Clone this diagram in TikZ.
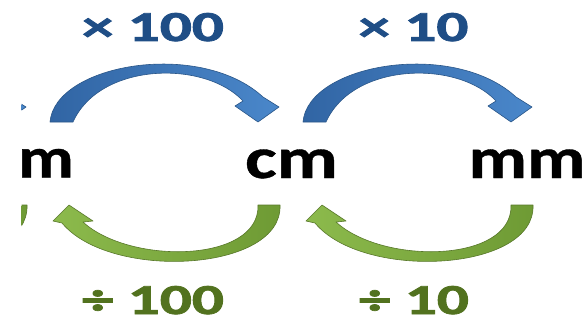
\documentclass[tikz,border=0pt]{standalone}
\usepackage{fontspec}
\setmainfont{Carlito}
\newfontfamily\heavyfont[FakeBold=1.6]{Carlito Bold}
\newfontfamily\unitfont[FakeBold=0.6]{Carlito Bold}
\definecolor{blueA}{HTML}{3165A4}
\definecolor{blueB}{HTML}{4A87CA}
\definecolor{blueE}{HTML}{2A5688}
\definecolor{greenA}{HTML}{8CBA4C}
\definecolor{greenB}{HTML}{6E9A34}
\definecolor{greenE}{HTML}{58782A}
\definecolor{labblue}{HTML}{1F4E86}
\definecolor{labgreen}{HTML}{52721F}
\tikzset{
  unit/.style={inner sep=0pt, anchor=base, font=\fontsize{58}{60}\unitfont, text=black},
  lab/.style={inner sep=0pt, anchor=base, font=\fontsize{42.7}{46}\heavyfont},
  bluearrow/.pic={
    \shadedraw[left color=blueA, right color=blueB, draw=blueE, line width=0.6pt, line join=round]
      (50,122) .. controls (55,64) and (200,39) .. (263,97)
      -- (279,107) -- (258,122) -- (235,106) -- (243,101)
      .. controls (205,60) and (100,62) .. (73,122) -- cycle;
  },
  greenarrow/.pic={
    \shadedraw[left color=greenA, right color=greenB, draw=greenE, line width=0.6pt, line join=round]
      (280,205) .. controls (283,272) and (110,281) .. (62,223)
      -- (53,221) -- (69,205) -- (93,221) -- (83,222)
      .. controls (130,265) and (260,263) .. (258,205) -- cycle;
  }
}
\begin{document}
\begin{tikzpicture}[x=1pt, y=-1pt]
\useasboundingbox (0,0) rectangle (588,326);
\fill[white] (0,0) rectangle (588,326);
% partial arrows cut at the left
\begin{scope}
  \clip (21.5,0) rectangle (588,326);
  \pic at (-253,0) {bluearrow};
  \pic at (-253,0) {greenarrow};
\end{scope}
\pic at (0,0) {bluearrow};
\pic at (253,0) {bluearrow};
\pic at (0,0) {greenarrow};
\pic at (253,0) {greenarrow};
% units
\node[unit] (m) at (46,177.5) {\scalebox{1.18}[1]{m}};
\node[unit] (cm) at (291.5,178) {\scalebox{1.3}[1]{cm}};
\node[unit] (mm) at (527,178) {\scalebox{1.24}[1]{mm}};
% labels
\node[lab, text=labblue] (x100) at (153,41) {\scalebox{1.48}[1]{× 100}};
\node[lab, text=labblue] (x10) at (413.5,41) {\scalebox{1.48}[1]{× 10}};
\node[lab, text=labgreen] (d100) at (153,314) {\scalebox{1.48}[1]{÷ 100}};
\node[lab, text=labgreen] (d10) at (414,314) {\scalebox{1.48}[1]{÷ 10}};
\end{tikzpicture}
\end{document}
